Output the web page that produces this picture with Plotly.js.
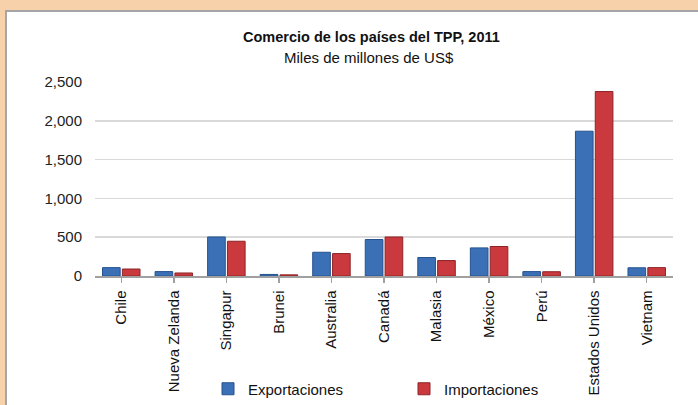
<!DOCTYPE html>
<html>
<head>
<meta charset="utf-8">
<script src="https://cdn.plot.ly/plotly-3.0.1.min.js"></script>
<style>
  html, body { margin: 0; padding: 0; background: #F6D1AA; }
  #chart { width: 698px; height: 405px; }
</style>
</head>
<body>
<div id="chart"></div>
<script>
const categories = ["Chile", "Nueva Zelanda", "Singapur", "Brunei", "Australia", "Canadá", "Malasia", "México", "Perú", "Estados Unidos", "Vietnam"];
const exportaciones = [108, 57, 503, 20, 306, 470, 238, 362, 57, 1866, 106];
const importaciones = [90, 39, 448, 15, 289, 503, 199, 380, 55, 2377, 108];
const yTicks = [0, 500, 1000, 1500, 2000, 2500];
const titleText = "Comercio de los países del TPP, 2011";
const subtitleText = "Miles de millones de US$";
const seriesNames = ["Exportaciones", "Importaciones"];

const font = "Liberation Sans, Arial, sans-serif";

const traces = [
  {
    type: "bar", name: seriesNames[0], x: categories, y: exportaciones,
    marker: { color: "#3C70B6", line: { color: "#24528F", width: 1 } },
    hoverinfo: "x+y"
  },
  {
    type: "bar", name: seriesNames[1], x: categories, y: importaciones,
    marker: { color: "#C9393D", line: { color: "#8E2427", width: 1 } },
    hoverinfo: "x+y"
  }
];

const L = 95, R = 25, T = 82, B = 129, W = 698, H = 405;
const pw = W - L - R, ph = H - T - B;
const px = v => (v - L) / pw;
const py = v => (H - B - v) / ph;

const layout = {
  width: W, height: H,
  margin: { l: L, r: R, t: T, b: B, pad: 0, autoexpand: false },
  paper_bgcolor: "#F6D1AA",
  plot_bgcolor: "rgba(0,0,0,0)",
  font: { family: font, size: 15, color: "#111" },
  barmode: "group",
  bargap: 0.245,
  bargroupgap: 0.11,
  showlegend: true,
  legend: {
    orientation: "h",
    x: px(208), xanchor: "left",
    y: py(389), yanchor: "middle",
    font: { family: font, size: 15, color: "#111" },
    bgcolor: "rgba(0,0,0,0)",
    entrywidth: 151, entrywidthmode: "pixels",
    traceorder: "normal"
  },
  xaxis: {
    type: "category",
    showline: true, linecolor: "#A0A0A0", linewidth: 1.5,
    ticks: "outside", ticklen: 5, tickcolor: "#A0A0A0", tickwidth: 1.5,
    tickangle: -90,
    tickfont: { family: font, size: 15, color: "#111" },
    showgrid: false, zeroline: false,
    ticklabelstandoff: 2
  },
  yaxis: {
    range: [0, 2500],
    tickvals: yTicks,
    tickformat: ",",
    showgrid: true, gridcolor: "#D9D9D9", gridwidth: 1.5,
    zeroline: false, showline: false,
    ticks: "",
    ticklabelstandoff: 12,
    tickfont: { family: font, size: 15, color: "#222" }
  },
  shapes: [
    {
      type: "rect", xref: "paper", yref: "paper", layer: "below",
      x0: px(6), x1: px(710), y0: py(420), y1: py(11),
      fillcolor: "#FFFFFF", line: { color: "#A6A6A6", width: 2 }
    }
  ],
  annotations: [
    {
      text: "<b>" + titleText + "</b>", xref: "paper", yref: "paper",
      x: px(371), y: py(37), xanchor: "center", yanchor: "middle",
      showarrow: false, font: { family: font, size: 14.5, color: "#111" }
    },
    {
      text: subtitleText, xref: "paper", yref: "paper",
      x: px(369), y: py(57), xanchor: "center", yanchor: "middle",
      showarrow: false, font: { family: font, size: 15, color: "#111" }
    }
  ]
};

Plotly.newPlot("chart", traces, layout, { displayModeBar: false, staticPlot: true });
</script>
</body>
</html>
